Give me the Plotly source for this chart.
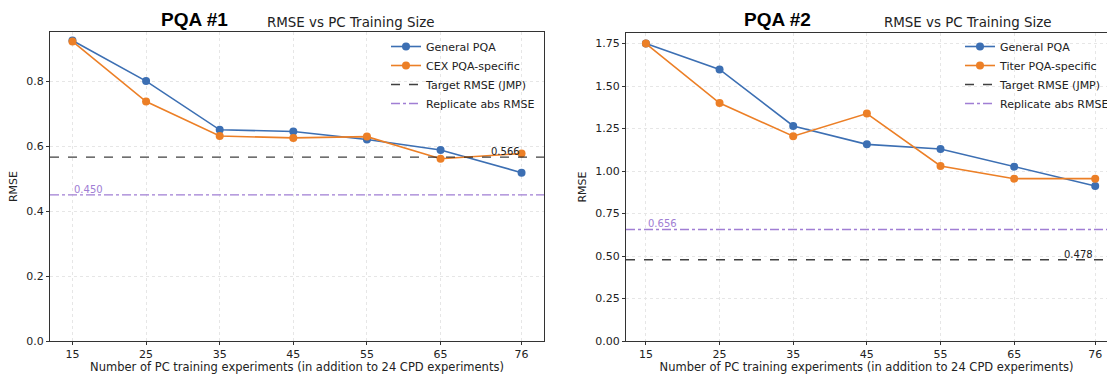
import plotly.graph_objects as go

# Training sizes (number of PC experiments)
sizes = [15, 25, 35, 45, 55, 65, 76]
tick_labels = ["15", "25", "35", "45", "55", "65", "76"]

# PQA #1
pqa1_general = [0.925, 0.800, 0.650, 0.645, 0.620, 0.588, 0.518]
pqa1_specific = [0.922, 0.737, 0.631, 0.625, 0.629, 0.561, 0.577]
pqa1_target = 0.566
pqa1_replicate = 0.450

# PQA #2
pqa2_general = [1.750, 1.598, 1.265, 1.157, 1.130, 1.025, 0.912]
pqa2_specific = [1.750, 1.400, 1.205, 1.338, 1.030, 0.955, 0.955]
pqa2_target = 0.478
pqa2_replicate = 0.656

W, H = 1107, 374
BLUE = "#3c6fb3"
ORANGE = "#ec7f26"
PURPLE = "#a07ed4"
DARK = "#333333"
TICK_FONT = dict(family="DejaVu Sans", size=11, color="#222222")

x1_range = [11.95, 79.05]
x2_range = [12.3, 77.6]
y1_range = [0, 0.951]
y2_range = [0, 1.812]

fig = go.Figure()


def add_panel(xa, ya, general, specific, spec_name, target, replicate, xr, legend):
    fig.add_trace(go.Scatter(
        x=sizes, y=general, mode="lines+markers", name="General PQA",
        line=dict(color=BLUE, width=1.6), marker=dict(size=8, color=BLUE),
        xaxis=xa, yaxis=ya, legend=legend))
    fig.add_trace(go.Scatter(
        x=sizes, y=specific, mode="lines+markers", name=spec_name,
        line=dict(color=ORANGE, width=1.6), marker=dict(size=8, color=ORANGE),
        xaxis=xa, yaxis=ya, legend=legend))
    fig.add_trace(go.Scatter(
        x=xr, y=[target, target], mode="lines", name="Target RMSE (JMP)",
        line=dict(color="rgba(30,30,30,0.85)", width=1.3, dash="dash"),
        xaxis=xa, yaxis=ya, legend=legend, hoverinfo="skip"))
    fig.add_trace(go.Scatter(
        x=xr, y=[replicate, replicate], mode="lines", name="Replicate abs RMSE",
        line=dict(color=PURPLE, width=1.3, dash="dashdot"),
        xaxis=xa, yaxis=ya, legend=legend, hoverinfo="skip"))


add_panel("x", "y", pqa1_general, pqa1_specific, "CEX PQA-specific",
          pqa1_target, pqa1_replicate, x1_range, "legend")
add_panel("x2", "y2", pqa2_general, pqa2_specific, "Titer PQA-specific",
          pqa2_target, pqa2_replicate, x2_range, "legend2")

ydom = [1 - 341 / H, 1 - 32 / H]
axis_common = dict(
    showline=True, linecolor=DARK, linewidth=1.2, automargin=False,
    ticks="outside", ticklen=3, tickcolor=DARK, tickfont=TICK_FONT,
    showgrid=True, gridcolor="#e6e6e6", griddash="dot", gridwidth=1,
    zeroline=False,
)
xtitle = dict(text="Number of PC training experiments (in addition to 24 CPD experiments)",
              font=dict(family="DejaVu Sans", size=11.5, color="#222222"), standoff=5)
ytitle = dict(text="RMSE", font=dict(family="DejaVu Sans", size=11, color="#222222"), standoff=6)
legend_font = dict(family="DejaVu Sans", size=11, color="#222222")

fig.update_layout(
    width=W, height=H,
    margin=dict(l=0, r=0, t=0, b=0, autoexpand=False),
    paper_bgcolor="white", plot_bgcolor="white",
    showlegend=True,
    xaxis=dict(domain=[50 / W, 544 / W], range=x1_range, tickvals=sizes, ticktext=tick_labels,
               mirror=True, anchor="y", title=xtitle, **axis_common),
    yaxis=dict(domain=ydom, range=y1_range, tickvals=[0, 0.2, 0.4, 0.6, 0.8],
               ticktext=["0.0", "0.2", "0.4", "0.6", "0.8"], mirror=True, anchor="x",
               title=ytitle, **axis_common),
    xaxis2=dict(domain=[626 / W, 1.0], range=x2_range, tickvals=sizes, ticktext=tick_labels,
                mirror=True, anchor="y2", title=xtitle, **axis_common),
    yaxis2=dict(domain=[1 - 341 / H, 1 - 33 / H], range=y2_range,
                tickvals=[0, 0.25, 0.5, 0.75, 1.0, 1.25, 1.5, 1.75],
                ticktext=["0.00", "0.25", "0.50", "0.75", "1.00", "1.25", "1.50", "1.75"],
                mirror=False, anchor="x2", title=ytitle, **axis_common),
    legend=dict(x=540 / W, xanchor="right", y=1 - 32 / H, yanchor="top",
                bgcolor="rgba(255,255,255,0)", borderwidth=0, font=legend_font,
                itemwidth=30, tracegroupgap=0),
    legend2=dict(x=960 / W, xanchor="left", y=1 - 32 / H, yanchor="top",
                 bgcolor="rgba(255,255,255,0)", borderwidth=0, font=legend_font,
                 itemwidth=30, tracegroupgap=0),
)

# Panel headings
head_font = dict(family="Liberation Sans", size=19, color="black")
sub_font = dict(family="DejaVu Sans", size=13.4, color="#222222")
for hx, sx, label in [(195, 351, "PQA #1"), (777, 968, "PQA #2")]:
    fig.add_annotation(text=f"<b>{label}</b>", x=hx / W, y=1 - 20 / H, xref="paper", yref="paper",
                       xanchor="center", yanchor="middle", showarrow=False, font=head_font)
    fig.add_annotation(text="RMSE vs PC Training Size", x=sx / W, y=1 - 22 / H, xref="paper",
                       yref="paper", xanchor="center", yanchor="middle", showarrow=False,
                       font=sub_font)

# Reference line value labels
lab_font = dict(family="DejaVu Sans", size=10)
fig.add_annotation(text=f"{pqa1_replicate:.3f}", x=sizes[0], y=pqa1_replicate, xref="x", yref="y",
                   xanchor="left", yanchor="bottom", showarrow=False, yshift=-2,
                   font=dict(color=PURPLE, **lab_font))
fig.add_annotation(text=f"{pqa1_target:.3f}", x=sizes[-1], y=pqa1_target, xref="x", yref="y",
                   xanchor="right", yanchor="bottom", showarrow=False, yshift=-2,
                   font=dict(color="#222222", **lab_font))
fig.add_annotation(text=f"{pqa2_replicate:.3f}", x=sizes[0], y=pqa2_replicate, xref="x2", yref="y2",
                   xanchor="left", yanchor="bottom", showarrow=False, yshift=-2,
                   font=dict(color=PURPLE, **lab_font))
fig.add_annotation(text=f"{pqa2_target:.3f}", x=sizes[-1], y=pqa2_target, xref="x2", yref="y2",
                   xanchor="right", yanchor="bottom", showarrow=False, yshift=-2,
                   font=dict(color="#222222", **lab_font))

fig.write_html("out.html")
